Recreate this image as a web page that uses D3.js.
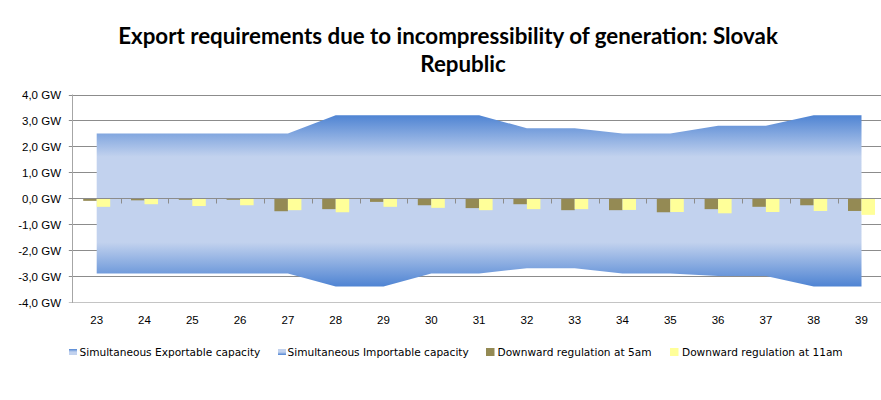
<!DOCTYPE html>
<html>
<head>
<meta charset="utf-8">
<script src="https://cdn.jsdelivr.net/npm/d3@7"></script>
<style>
  html, body { margin: 0; padding: 0; background: #ffffff; }
  svg { display: block; }
</style>
</head>
<body>
<svg id="chart" width="881" height="400"></svg>
<script>
// ---- data ----
const categories = ["23","24","25","26","27","28","29","30","31","32","33","34","35","36","37","38","39"];
const exportable = [2.5,2.5,2.5,2.5,2.5,3.2,3.2,3.2,3.2,2.7,2.7,2.5,2.5,2.8,2.8,3.2,3.2];
const importable = [-2.9,-2.9,-2.9,-2.9,-2.9,-3.4,-3.4,-2.9,-2.9,-2.7,-2.7,-2.9,-2.9,-3.0,-3.0,-3.4,-3.4];
const down5am = [-0.10,-0.08,-0.06,-0.06,-0.50,-0.42,-0.14,-0.27,-0.38,-0.23,-0.46,-0.46,-0.54,-0.42,-0.33,-0.27,-0.49];
const down11am = [-0.33,-0.23,-0.30,-0.27,-0.46,-0.54,-0.33,-0.37,-0.46,-0.42,-0.42,-0.45,-0.53,-0.58,-0.53,-0.49,-0.64];
const yTicks = [4,3,2,1,0,-1,-2,-3,-4];
const seriesNames = ["Simultaneous Exportable capacity","Simultaneous Importable capacity","Downward regulation at 5am","Downward regulation at 11am"];
const titleLines = ["Export requirements due to incompressibility of generation: Slovak","Republic"];

// ---- layout ----
const svg = d3.select("#chart");
const plotLeft = 72.8, band = 47.8;
const plotRight = plotLeft + band * categories.length;
const yTop = 94.5, yBottom = 302;

const x = d3.scaleBand().domain(categories).range([plotLeft, plotRight]).padding(0);
const y = d3.scaleLinear().domain([-4, 4]).range([yBottom, yTop]);
const cx = c => x(c) + x.bandwidth() / 2;
const barW = 13.5;
const xSub = d3.scaleBand().domain(["d5","d11"]).range([x.bandwidth()/2 - barW, x.bandwidth()/2 + barW]);

const darkBlue = "#4f84d3", lightBlue = "#c2d2ee";
const olive = "#948a54", yellow = "#ffff99";
const gridColor = "#8c8c8c";

// gradients
const defs = svg.append("defs");
const gExp = defs.append("linearGradient").attr("id","gExp").attr("x1",0).attr("y1",0).attr("x2",0).attr("y2",1);
gExp.append("stop").attr("offset","0%").attr("stop-color",darkBlue);
gExp.append("stop").attr("offset","50%").attr("stop-color",lightBlue);
gExp.append("stop").attr("offset","100%").attr("stop-color",lightBlue);
const gImp = defs.append("linearGradient").attr("id","gImp").attr("x1",0).attr("y1",0).attr("x2",0).attr("y2",1);
gImp.append("stop").attr("offset","0%").attr("stop-color",lightBlue);
gImp.append("stop").attr("offset","50%").attr("stop-color",lightBlue);
gImp.append("stop").attr("offset","100%").attr("stop-color",darkBlue);

// title
const title = svg.append("g").attr("font-family","Lato, 'Open Sans', sans-serif").attr("font-weight","bold").attr("fill","#000");
const t1 = title.append("text").attr("x",448).attr("y",44).attr("text-anchor","middle").attr("font-size",19).text(titleLines[0]);
let w = t1.node().getComputedTextLength();
const fs = 19 * 660 / w;
t1.attr("font-size", fs);
title.append("text").attr("x",463).attr("y",72).attr("text-anchor","middle").attr("font-size",fs).text(titleLines[1]);

// gridlines
svg.append("g").selectAll("line").data(yTicks).join("line")
  .attr("x1", plotLeft - 4).attr("x2", 881)
  .attr("y1", d => Math.round(y(d)) + 0.5).attr("y2", d => Math.round(y(d)) + 0.5)
  .attr("stroke", d => d === -4 ? "#c4c4c4" : gridColor).attr("stroke-width",1);

// y axis line
svg.append("line").attr("x1", Math.round(plotLeft)-0.5).attr("x2", Math.round(plotLeft)-0.5)
  .attr("y1", y(4)).attr("y2", y(-4)+1).attr("stroke","#a6a6a6");

// y labels
svg.append("g").selectAll("text").data(yTicks).join("text")
  .attr("x", 61).attr("y", d => y(d) + 4.5).attr("text-anchor","end")
  .attr("font-family","'Liberation Sans', Arial, sans-serif").attr("font-size",11.5).attr("fill","#000")
  .text(d => d3.format(".1f")(d).replace(".", ",").replace("−","-") + " GW");

// areas
const areaExp = d3.area().x((d,i) => cx(categories[i])).y0(y(0)).y1(d => y(d));
svg.append("path").datum(exportable).attr("d", areaExp).attr("fill","url(#gExp)");
svg.append("path").datum(importable).attr("d", areaExp).attr("fill","url(#gImp)");

// bars
const barData = categories.map((c,i) => ({c, d5: down5am[i], d11: down11am[i]}));
const gb = svg.append("g");
gb.selectAll("rect.d5").data(barData).join("rect").attr("class","d5")
  .attr("x", d => x(d.c) + xSub("d5")).attr("width", xSub.bandwidth())
  .attr("y", d => y(Math.max(0,d.d5))).attr("height", d => Math.abs(y(d.d5) - y(0)))
  .attr("fill", olive);
gb.selectAll("rect.d11").data(barData).join("rect").attr("class","d11")
  .attr("x", d => x(d.c) + xSub("d11")).attr("width", xSub.bandwidth())
  .attr("y", d => y(Math.max(0,d.d11))).attr("height", d => Math.abs(y(d.d11) - y(0)))
  .attr("fill", yellow);

// zero axis with ticks
const zy = Math.round(y(0)) + 0.5;
svg.append("line").attr("x1", plotLeft - 4).attr("x2", 881).attr("y1", zy).attr("y2", zy).attr("stroke", gridColor);
svg.append("g").selectAll("line").data(categories.slice(1)).join("line")
  .attr("x1", d => Math.round(x(d)) + 0.5).attr("x2", d => Math.round(x(d)) + 0.5)
  .attr("y1", zy).attr("y2", zy + 5).attr("stroke", gridColor);

// x labels
svg.append("g").selectAll("text").data(categories).join("text")
  .attr("x", d => cx(d)).attr("y", 324).attr("text-anchor","middle")
  .attr("font-family","'Liberation Sans', Arial, sans-serif").attr("font-size",11.5).attr("fill","#000")
  .text(d => d);

// legend
const legend = svg.append("g").attr("font-family","'DejaVu Sans', Verdana, sans-serif").attr("font-size",10).attr("fill","#000");
const legItems = [
  {name: seriesNames[0], sx: 69, tx: 79.5, fill: "url(#gExp)", h: 6},
  {name: seriesNames[1], sx: 278, tx: 287.5, fill: "url(#gImp)", h: 6},
  {name: seriesNames[2], sx: 486, tx: 497.5, fill: olive, h: 8},
  {name: seriesNames[3], sx: 670, tx: 682, fill: yellow, h: 8}
];
const probe = legend.append("text").text(seriesNames[0]);
const legFs = 10 * 181 / probe.node().getComputedTextLength();
probe.remove();
legend.attr("font-size", legFs);
legItems.forEach(it => {
  legend.append("rect").attr("x", it.sx).attr("y", 352 - it.h/2).attr("width", it.h === 6 ? 8 : 8.5).attr("height", it.h).attr("fill", it.fill);
  legend.append("text").attr("x", it.tx).attr("y", 355.5).text(it.name);
});
</script>
</body>
</html>
